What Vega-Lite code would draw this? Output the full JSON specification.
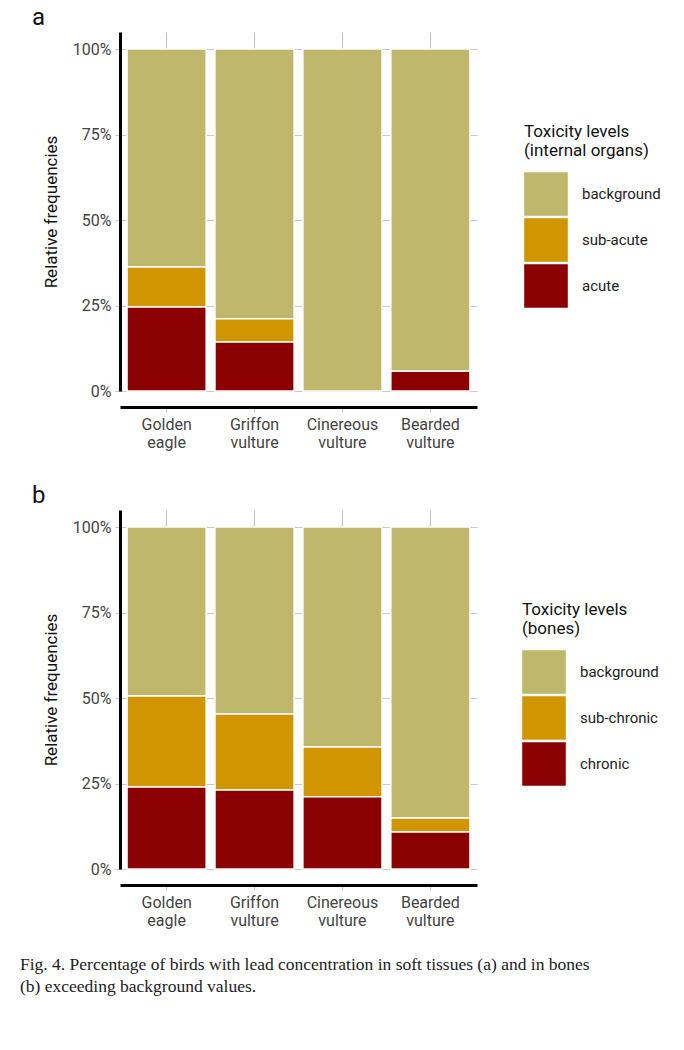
{
  "$schema": "https://vega.github.io/schema/vega-lite/v6.json",
  "background": "white",
  "padding": {"left": 20, "top": 6, "right": 5, "bottom": 5},
  "datasets": {
    "soft": [
      {"species": "Golden eagle", "level": "background", "ord": 3, "pct": 63.7},
      {"species": "Golden eagle", "level": "sub-acute", "ord": 2, "pct": 11.7},
      {"species": "Golden eagle", "level": "acute", "ord": 1, "pct": 24.6},
      {"species": "Griffon vulture", "level": "background", "ord": 3, "pct": 78.9},
      {"species": "Griffon vulture", "level": "sub-acute", "ord": 2, "pct": 6.8},
      {"species": "Griffon vulture", "level": "acute", "ord": 1, "pct": 14.3},
      {"species": "Cinereous vulture", "level": "background", "ord": 3, "pct": 100},
      {"species": "Bearded vulture", "level": "background", "ord": 3, "pct": 94.2},
      {"species": "Bearded vulture", "level": "acute", "ord": 1, "pct": 5.8}
    ],
    "bones": [
      {"species": "Golden eagle", "level": "background", "ord": 3, "pct": 49.4},
      {"species": "Golden eagle", "level": "sub-chronic", "ord": 2, "pct": 26.6},
      {"species": "Golden eagle", "level": "chronic", "ord": 1, "pct": 24.0},
      {"species": "Griffon vulture", "level": "background", "ord": 3, "pct": 54.7},
      {"species": "Griffon vulture", "level": "sub-chronic", "ord": 2, "pct": 22.2},
      {"species": "Griffon vulture", "level": "chronic", "ord": 1, "pct": 23.1},
      {"species": "Cinereous vulture", "level": "background", "ord": 3, "pct": 64.3},
      {"species": "Cinereous vulture", "level": "sub-chronic", "ord": 2, "pct": 14.6},
      {"species": "Cinereous vulture", "level": "chronic", "ord": 1, "pct": 21.1},
      {"species": "Bearded vulture", "level": "background", "ord": 3, "pct": 85.1},
      {"species": "Bearded vulture", "level": "sub-chronic", "ord": 2, "pct": 4.1},
      {"species": "Bearded vulture", "level": "chronic", "ord": 1, "pct": 10.8}
    ]
  },
  "title": {
    "text": ["Fig. 4. Percentage of birds with lead concentration in soft tissues (a) and in bones", "(b) exceeding background values."],
    "orient": "bottom",
    "anchor": "start",
    "frame": "bounds",
    "dx": -12,
    "offset": 28,
    "font": "Liberation Serif",
    "fontSize": 17.5,
    "lineHeight": 22,
    "fontWeight": "normal",
    "color": "#222"
  },
  "spacing": 34,
  "vconcat": [
    {
      "width": 357,
      "height": 359,
      "data": {"name": "soft"},
      "title": {"text": "a", "anchor": "start", "frame": "group", "dx": -88, "fontSize": 24, "fontWeight": "normal", "offset": 2},
      "mark": {"type": "bar", "stroke": "white", "strokeWidth": 1.5},
      "encoding": {
        "x": {"field": "species", "type": "nominal", "sort": ["Golden eagle", "Griffon vulture", "Cinereous vulture", "Bearded vulture"],
          "scale": {"paddingInner": 0.1, "paddingOuter": 0.08}, "title": null,
          "axis": {"labelAngle": 0, "labelExpr": "split(datum.label, ' ')", "offset": 16}},
        "y": {"field": "pct", "type": "quantitative", "stack": true, "scale": {"domain": [0, 105], "nice": false}, "title": "Relative frequencies",
          "axis": {"values": [0, 25, 50, 75, 100], "labelExpr": "datum.value + '%'"}},
        "color": {"field": "level", "type": "nominal",
          "scale": {"domain": ["background", "sub-acute", "acute"], "range": ["#BFB76B", "#D09500", "#8B0000"]},
          "legend": {"title": ["Toxicity levels", "(internal organs)"], "orient": "none", "legendX": 404, "legendY": 92}},
        "order": {"field": "ord", "type": "quantitative"}
      }
    },
    {
      "width": 357,
      "height": 359,
      "data": {"name": "bones"},
      "title": {"text": "b", "anchor": "start", "frame": "group", "dx": -88, "fontSize": 24, "fontWeight": "normal", "offset": 2},
      "mark": {"type": "bar", "stroke": "white", "strokeWidth": 1.5},
      "encoding": {
        "x": {"field": "species", "type": "nominal", "sort": ["Golden eagle", "Griffon vulture", "Cinereous vulture", "Bearded vulture"],
          "scale": {"paddingInner": 0.1, "paddingOuter": 0.08}, "title": null,
          "axis": {"labelAngle": 0, "labelExpr": "split(datum.label, ' ')", "offset": 16}},
        "y": {"field": "pct", "type": "quantitative", "stack": true, "scale": {"domain": [0, 105], "nice": false}, "title": "Relative frequencies",
          "axis": {"values": [0, 25, 50, 75, 100], "labelExpr": "datum.value + '%'"}},
        "color": {"field": "level", "type": "nominal",
          "scale": {"domain": ["background", "sub-chronic", "chronic"], "range": ["#BFB76B", "#D09500", "#8B0000"]},
          "legend": {"title": ["Toxicity levels", "(bones)"], "orient": "none", "legendX": 402, "legendY": 92}},
        "order": {"field": "ord", "type": "quantitative"}
      }
    }
  ],
  "resolve": {"scale": {"color": "independent"}},
  "config": {
    "font": "Roboto",
    "view": {"stroke": null},
    "axis": {
      "grid": true, "gridColor": "#c8c8c8", "gridWidth": 1.2,
      "domainColor": "black", "domainWidth": 3,
      "tickColor": "#c8c8c8", "tickSize": 5,
      "labelFontSize": 16, "labelColor": "#444", "labelPadding": 4,
      "titleFontSize": 17, "titleFontWeight": "normal", "titleColor": "#111", "titlePadding": 12
    },
    "legend": {
      "symbolType": "square", "symbolSize": 1900, "symbolStrokeWidth": 0, "symbolOpacity": 1,
      "labelFontSize": 15, "labelColor": "#222", "labelOffset": 14,
      "titleFontSize": 17, "titleFontWeight": "normal", "titleColor": "#111", "titlePadding": 12,
      "rowPadding": 2, "clipHeight": 44
    },
    "title": {"font": "Roboto", "color": "#111"}
  }
}
